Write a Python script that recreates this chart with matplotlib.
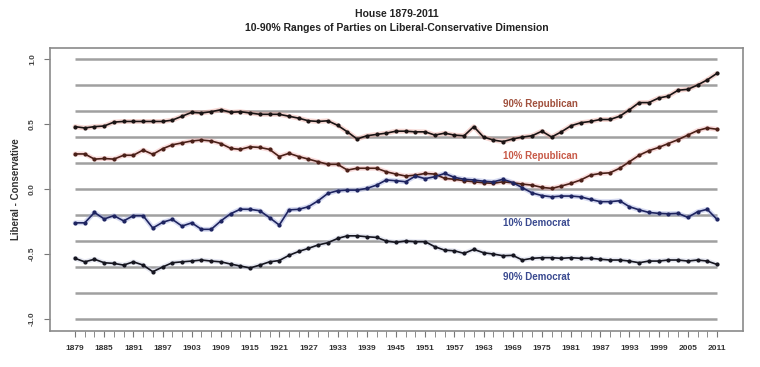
import numpy as np
import matplotlib.pyplot as plt

plt.rcParams['font.family'] = ['Liberation Sans', 'DejaVu Sans']

# Congress start years, 1879-2011
years = list(range(1879, 2012, 2))

rep90 = [0.48, 0.47, 0.48, 0.485, 0.515, 0.52, 0.52, 0.52, 0.52, 0.52,
         0.53, 0.56, 0.59, 0.585, 0.595, 0.61, 0.59, 0.595, 0.585, 0.575,
         0.575, 0.575, 0.56, 0.545, 0.525, 0.52, 0.525, 0.49, 0.44, 0.385,
         0.41, 0.42, 0.43, 0.445, 0.445, 0.44, 0.44, 0.415, 0.43, 0.415,
         0.41, 0.48, 0.40, 0.377, 0.365, 0.385, 0.40, 0.41, 0.445, 0.40,
         0.44, 0.487, 0.51, 0.52, 0.535, 0.535, 0.56, 0.61, 0.665, 0.665,
         0.70, 0.715, 0.76, 0.767, 0.80, 0.84, 0.89]

rep10 = [0.27, 0.27, 0.23, 0.235, 0.23, 0.26, 0.26, 0.30, 0.267, 0.31,
         0.34, 0.355, 0.37, 0.377, 0.37, 0.35, 0.313, 0.305, 0.325, 0.32,
         0.305, 0.25, 0.275, 0.25, 0.23, 0.21, 0.19, 0.19, 0.146, 0.16,
         0.16, 0.16, 0.133, 0.115, 0.10, 0.107, 0.12, 0.115, 0.082, 0.075,
         0.064, 0.056, 0.048, 0.044, 0.056, 0.048, 0.038, 0.03, 0.013, 0.005,
         0.023, 0.044, 0.07, 0.107, 0.12, 0.125, 0.16, 0.21, 0.26, 0.295,
         0.32, 0.35, 0.38, 0.415, 0.45, 0.47, 0.46]

dem10 = [-0.26, -0.26, -0.18, -0.23, -0.205, -0.245, -0.205, -0.205, -0.30, -0.256,
         -0.233, -0.285, -0.26, -0.31, -0.31, -0.245, -0.19, -0.155, -0.156, -0.167,
         -0.22, -0.277, -0.16, -0.156, -0.136, -0.09, -0.033, -0.013, -0.008, -0.008,
         0.005, 0.03, 0.07, 0.064, 0.056, 0.10, 0.08, 0.095, 0.12, 0.09,
         0.075, 0.07, 0.06, 0.055, 0.075, 0.05, 0.01, -0.03, -0.05, -0.06,
         -0.054, -0.054, -0.06, -0.08, -0.097, -0.097, -0.09, -0.136, -0.16, -0.18,
         -0.187, -0.19, -0.187, -0.218, -0.175, -0.156, -0.233]

dem90 = [-0.533, -0.56, -0.54, -0.567, -0.572, -0.585, -0.56, -0.585, -0.636, -0.60,
         -0.567, -0.56, -0.554, -0.546, -0.554, -0.56, -0.577, -0.592, -0.607, -0.585,
         -0.56, -0.55, -0.51, -0.48, -0.456, -0.43, -0.413, -0.38, -0.36, -0.36,
         -0.367, -0.372, -0.40, -0.41, -0.40, -0.405, -0.405, -0.444, -0.47, -0.475,
         -0.495, -0.464, -0.49, -0.50, -0.513, -0.51, -0.546, -0.533, -0.528, -0.528,
         -0.533, -0.528, -0.533, -0.533, -0.54, -0.546, -0.546, -0.554, -0.567, -0.554,
         -0.554, -0.546, -0.546, -0.554, -0.546, -0.554, -0.58]

fig = plt.figure(figsize=(7.6, 3.67), dpi=100)
ax = fig.add_axes([0.0658, 0.0981, 0.9118, 0.7711])

# grey reference lines every 0.2
ax.hlines(np.arange(-1.0, 1.01, 0.2), years[0], years[-1], color='#a0a0a0', lw=1.8, zorder=1)

series = [
    (rep90, '#1a1414', '#e89a90'),
    (rep10, '#4a2018', '#f0a8a8'),
    (dem10, '#1e2460', '#9aa4dc'),
    (dem90, '#161620', '#c4c8e0'),
]
for vals, col, glow in series:
    ax.plot(years, vals, color=glow, lw=3.5, alpha=0.4, zorder=2, solid_capstyle='round')
    ax.plot(years, vals, color=col, lw=1.2, marker='o', ms=2.0, zorder=3)

# series labels
ax.text(1967, 0.654, '90% Republican', color='#a0503c', fontsize=7, fontweight='bold', va='center')
ax.text(1967, 0.254, '10% Republican', color='#c85a48', fontsize=7, fontweight='bold', va='center')
ax.text(1967, -0.26, '10% Democrat', color='#3a4a90', fontsize=7, fontweight='bold', va='center')
ax.text(1967, -0.677, '90% Democrat', color='#3a4a90', fontsize=7, fontweight='bold', va='center')

ax.set_xlim(1873.86, 2016.35)
ax.set_ylim(-1.092, 1.085)

ax.set_xticks(years, minor=True)
ax.set_xticks(years[::3])
ax.set_xticklabels([str(y) for y in years[::3]], fontsize=6, fontweight='bold', color='#333333')
ax.tick_params(axis='x', which='both', length=4, color='#777777', pad=6)

ax.set_yticks([-1.0, -0.5, 0.0, 0.5, 1.0])
ax.set_yticklabels(['-1.0', '-0.5', '0.0', '0.5', '1.0'], rotation=90, va='center',
                   fontsize=6, fontweight='bold', color='#444444')
ax.tick_params(axis='y', length=4, color='#777777', pad=6)
ax.set_ylabel('Liberal - Conservative', fontsize=7, fontweight='bold', color='#333333', labelpad=6)

for s in ax.spines.values():
    s.set_color('#8a8a8a')
    s.set_linewidth(1.2)

fig.text(0.522, 0.955, 'House 1879-2011', ha='center', fontsize=7.5, fontweight='bold', color='#222222')
fig.text(0.522, 0.915, '10-90% Ranges of Parties on Liberal-Conservative Dimension',
         ha='center', fontsize=7.5, fontweight='bold', color='#222222')

fig.savefig('out.png', dpi=100)
